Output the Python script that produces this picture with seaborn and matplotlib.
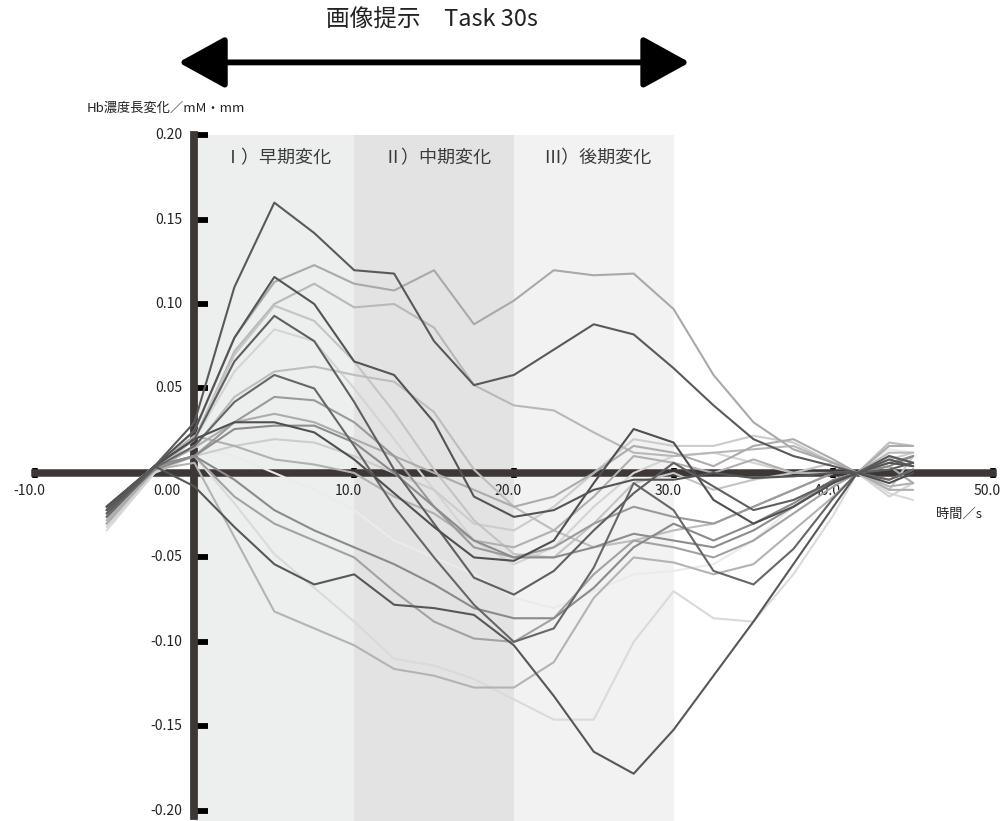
import numpy as np
import pandas as pd
import matplotlib
matplotlib.use("Agg")
import matplotlib.pyplot as plt
import seaborn as sns

# ---------------- data ----------------
T = [-5.5, -2.5, 0, 2.5, 5, 7.5, 10, 12.5, 15, 17.5, 20, 22.5, 25, 27.5, 30, 32.5, 35, 37.5, 40, 41.5, 43.5, 45]

s01 = [-0.024, 0.004, 0.030, 0.110, 0.160, 0.142, 0.120, 0.118, 0.078, 0.052, 0.058, 0.073, 0.088, 0.082, 0.062, 0.040, 0.020, 0.010, 0.004, 0.000, 0.010, 0.006]
s02 = [-0.020, 0.004, 0.025, 0.080, 0.113, 0.123, 0.112, 0.108, 0.120, 0.088, 0.102, 0.120, 0.117, 0.118, 0.097, 0.058, 0.030, 0.014, 0.006, 0.000, 0.004, -0.006]
s03 = [-0.028, 0.002, 0.020, 0.072, 0.100, 0.112, 0.098, 0.100, 0.086, 0.052, 0.040, 0.037, 0.024, 0.012, 0.010, 0.012, 0.014, 0.016, 0.006, 0.000, 0.012, 0.012]
s04 = [-0.020, 0.004, 0.025, 0.080, 0.116, 0.100, 0.066, 0.058, 0.030, -0.014, -0.026, -0.022, -0.010, -0.004, -0.004, 0.000, -0.003, -0.002, 0.000, 0.000, 0.006, 0.004]
s05 = [-0.022, 0.004, 0.020, 0.066, 0.093, 0.078, 0.042, 0.002, -0.030, -0.062, -0.072, -0.058, -0.034, -0.012, 0.006, -0.008, -0.022, -0.016, -0.005, 0.000, 0.002, 0.006]
s06 = [-0.026, 0.003, 0.016, 0.042, 0.058, 0.050, 0.016, -0.020, -0.050, -0.078, -0.100, -0.092, -0.056, -0.006, -0.022, -0.058, -0.066, -0.045, -0.015, 0.000, -0.004, 0.002]
s07 = [-0.020, 0.004, 0.020, 0.030, 0.030, 0.024, 0.008, -0.012, -0.032, -0.050, -0.052, -0.040, -0.006, 0.026, 0.018, -0.016, -0.030, -0.020, -0.006, 0.000, -0.006, 0.000]
s08 = [-0.022, 0.004, -0.008, -0.032, -0.054, -0.066, -0.060, -0.078, -0.080, -0.084, -0.102, -0.132, -0.165, -0.178, -0.152, -0.120, -0.088, -0.054, -0.020, 0.000, 0.008, 0.004]
s09 = [-0.030, 0.002, 0.006, -0.038, -0.082, -0.092, -0.102, -0.116, -0.120, -0.127, -0.127, -0.112, -0.074, -0.050, -0.053, -0.060, -0.054, -0.034, -0.014, 0.000, -0.008, -0.006]
s10 = [-0.034, 0.000, 0.010, -0.018, -0.048, -0.068, -0.088, -0.110, -0.114, -0.122, -0.134, -0.146, -0.146, -0.100, -0.070, -0.086, -0.088, -0.060, -0.025, 0.000, -0.012, -0.016]
s11 = [-0.022, 0.004, 0.010, -0.014, -0.030, -0.040, -0.050, -0.070, -0.088, -0.098, -0.100, -0.086, -0.060, -0.040, -0.044, -0.050, -0.040, -0.024, -0.008, 0.000, 0.010, 0.006]
s12 = [-0.024, 0.002, 0.010, -0.004, -0.022, -0.034, -0.044, -0.054, -0.066, -0.080, -0.086, -0.086, -0.068, -0.044, -0.030, -0.040, -0.030, -0.018, -0.004, 0.000, 0.004, 0.010]
s13 = [-0.020, 0.004, 0.016, 0.010, 0.000, -0.010, -0.022, -0.040, -0.050, -0.060, -0.074, -0.080, -0.070, -0.060, -0.058, -0.054, -0.040, -0.020, -0.004, 0.000, 0.014, 0.012]
s14 = [-0.030, 0.002, 0.020, 0.070, 0.099, 0.090, 0.066, 0.036, 0.002, -0.028, -0.048, -0.050, -0.030, -0.006, 0.000, -0.010, -0.004, 0.000, 0.006, 0.000, -0.010, 0.010]
s15 = [-0.020, 0.004, 0.015, 0.045, 0.060, 0.063, 0.058, 0.054, 0.036, 0.002, -0.020, -0.034, -0.044, -0.040, -0.034, -0.030, -0.020, -0.010, 0.000, 0.000, 0.018, 0.016]
s16 = [-0.032, 0.000, 0.020, 0.060, 0.085, 0.078, 0.050, 0.020, -0.010, -0.040, -0.054, -0.044, -0.020, 0.000, 0.010, 0.012, 0.006, 0.000, 0.000, 0.000, -0.014, -0.006]
s17 = [-0.022, 0.004, 0.010, 0.030, 0.045, 0.043, 0.030, 0.010, -0.020, -0.044, -0.050, -0.044, -0.030, -0.020, -0.026, -0.030, -0.020, -0.010, 0.000, 0.000, 0.006, 0.010]
s18 = [-0.026, 0.004, 0.010, 0.026, 0.028, 0.028, 0.018, 0.000, -0.020, -0.040, -0.050, -0.050, -0.044, -0.036, -0.040, -0.044, -0.034, -0.020, -0.005, 0.000, -0.004, 0.002]
s19 = [-0.030, 0.002, 0.015, 0.030, 0.035, 0.030, 0.020, 0.010, 0.000, -0.010, -0.020, -0.014, 0.000, 0.016, 0.012, 0.004, 0.016, 0.020, 0.008, 0.000, 0.016, 0.016]
s20 = [-0.020, 0.004, 0.010, 0.016, 0.020, 0.018, 0.010, 0.000, -0.010, -0.030, -0.034, -0.020, 0.000, 0.020, 0.016, 0.016, 0.022, 0.018, 0.006, 0.000, 0.008, 0.012]
s21 = [-0.028, 0.004, 0.022, 0.016, 0.008, 0.005, 0.000, -0.014, -0.024, -0.040, -0.044, -0.034, -0.014, 0.010, 0.006, 0.000, 0.008, 0.000, 0.000, 0.000, -0.010, -0.010]

series = {"s13": s13, "s10": s10, "s16": s16, "s20": s20, "s03": s03, "s14": s14, "s15": s15,
          "s09": s09, "s21": s21, "s19": s19, "s02": s02, "s11": s11, "s17": s17, "s12": s12,
          "s18": s18, "s06": s06, "s05": s05, "s07": s07, "s04": s04, "s08": s08, "s01": s01}
line_colors = {"s01": "#595959", "s02": "#a9a9a9", "s03": "#b8b8b8", "s04": "#545454", "s05": "#5f5f5f",
               "s06": "#666666", "s07": "#4f4f4f", "s08": "#575757", "s09": "#b3b3b3", "s10": "#dadada",
               "s11": "#a2a2a2", "s12": "#8a8a8a", "s13": "#ebebeb", "s14": "#c4c4c4", "s15": "#bdbdbd",
               "s16": "#d4d4d4", "s17": "#9a9a9a", "s18": "#8c8c8c", "s19": "#acacac", "s20": "#cccccc",
               "s21": "#b0b0b0"}

phase_edges = [0, 10, 20, 30]
phase_labels = ["Ⅰ）早期変化", "Ⅱ）中期変化", "Ⅲ）後期変化"]
phase_colors = ["#edefee", "#e3e3e3", "#f2f2f2"]

yticks = [0.20, 0.15, 0.10, 0.05, -0.05, -0.10, -0.15, -0.20]
ytick_labels = ["0.20", "0.15", "0.10", "0.05", "-0.05", "-0.10", "-0.15", "-0.20"]
xticks = [-10, 0, 10, 20, 30, 40, 50]
xtick_labels = ["-10.0", "0.00", "10.0", "20.0", "30.0", "40.0", "50.0"]

title = "画像提示　Task 30s"
ylabel = "Hb濃度長変化／mM・mm"
xlabel = "時間／s"

# ---------------- style ----------------
sns.set_style("white")
plt.rcParams["font.family"] = ["Noto Sans CJK JP", "DejaVu Sans"]

fig = plt.figure(figsize=(10.04, 8.21), dpi=100)
ax = fig.add_axes([0.0219, 0.0, 0.9767, 0.8458])
ax.set_xlim(-10.8, 50.6)
ax.set_ylim(-0.206, 0.205)

axis_col = "#3d3736"

# phase shading
for i in range(3):
    ax.fill_between([phase_edges[i], phase_edges[i + 1]], -0.206, 0.2,
                    color=phase_colors[i], lw=0, zorder=0)
    ax.text((phase_edges[i] + phase_edges[i + 1]) / 2 + 0.2, 0.186, phase_labels[i],
            ha="center", va="center", fontsize=13, color="#3a3a3a", zorder=1)

# curves
rows = []
for name, vals in series.items():
    for t, v in zip(T, vals):
        rows.append({"t": t, "v": v, "series": name})
df = pd.DataFrame(rows)
sns.lineplot(data=df, x="t", y="v", hue="series", hue_order=list(series.keys()),
             palette=line_colors, legend=False, linewidth=1.5, estimator=None,
             sort=False, ax=ax, zorder=3)

# spines as axes through origin
for s in ["top", "right"]:
    ax.spines[s].set_visible(False)
ax.spines["left"].set_position(("data", 0))
ax.spines["bottom"].set_position(("data", 0))
ax.spines["left"].set_bounds(-0.203, 0.2)
ax.spines["bottom"].set_bounds(-10, 50)
ax.spines["left"].set_linewidth(5.6)
ax.spines["bottom"].set_linewidth(5.4)
ax.spines["left"].set_color(axis_col)
ax.spines["bottom"].set_color(axis_col)
ax.spines["left"].set_zorder(2)
ax.spines["bottom"].set_zorder(2)

ax.set_yticks(yticks)
ax.set_yticklabels([])
ax.set_xticks([x for x in xticks if x != 0])
ax.set_xticklabels([])
ax.tick_params(axis="y", left=True, direction="in", length=10, width=4.2, color="black")
ax.tick_params(axis="x", bottom=True, direction="inout", length=7.5, width=4.0, color="black")
ax.set_xlabel("")
ax.set_ylabel("")

# tick labels (drawn beneath the curves)
for yv, lab in zip(yticks, ytick_labels):
    ax.text(-0.75, yv, lab, ha="right", va="center", fontsize=10, color="#222222", zorder=1)
for xv, lab in zip(xticks, xtick_labels):
    xpos = -1.75 if xv == 0 else xv - 0.35
    ax.text(xpos, -0.0065, lab, ha="center", va="top", fontsize=10, color="#222222", zorder=1)

ax.text(49.3, -0.0245, xlabel, ha="right", va="center", fontsize=9.5, color="#222222")
ax.text(-6.73, 0.216, ylabel, ha="left", va="center", fontsize=9.5, color="#222222")
ax.text(14.87, 0.268, title, ha="center", va="center", fontsize=17, color="#222222")

ax.annotate("", xy=(31.0, 0.243), xytext=(-1.0, 0.243),
            arrowprops=dict(arrowstyle="<|-|>,head_length=2.9,head_width=1.6",
                            mutation_scale=10, lw=4.2, color="black",
                            shrinkA=0, shrinkB=0),
            annotation_clip=False)

fig.savefig("out.png", dpi=100)
